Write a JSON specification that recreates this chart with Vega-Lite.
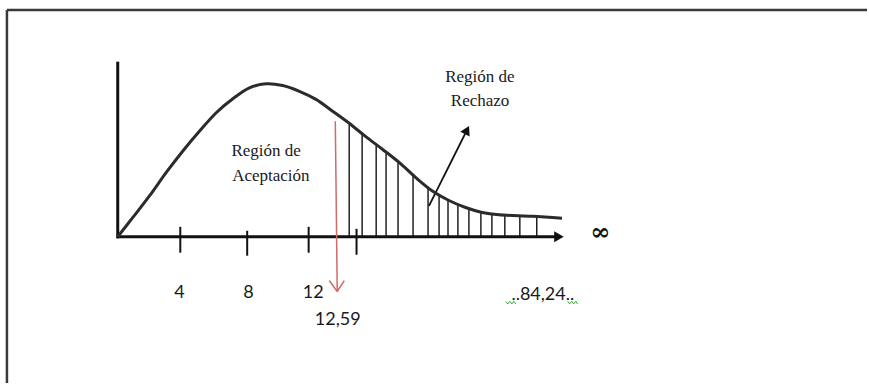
{
  "$schema": "https://vega.github.io/schema/vega-lite/v6.json",
  "width": 869,
  "height": 385,
  "autosize": {"type": "fit", "contains": "padding"},
  "padding": 0,
  "background": "white",
  "config": {"view": {"stroke": null}},
  "datasets": {
    "curve": [
      {"x": 0, "y": 0},
      {"x": 0.96, "y": 0.0123},
      {"x": 2.0, "y": 0.0258},
      {"x": 3.04, "y": 0.0404},
      {"x": 4.08, "y": 0.0539},
      {"x": 5.13, "y": 0.0664},
      {"x": 6.17, "y": 0.0779},
      {"x": 7.21, "y": 0.0867},
      {"x": 8.25, "y": 0.0936},
      {"x": 9.29, "y": 0.0961},
      {"x": 10.33, "y": 0.095},
      {"x": 11.38, "y": 0.0914},
      {"x": 12.42, "y": 0.0863},
      {"x": 13.46, "y": 0.0789},
      {"x": 14.5, "y": 0.0713},
      {"x": 15.54, "y": 0.0629},
      {"x": 16.58, "y": 0.055},
      {"x": 17.63, "y": 0.0467},
      {"x": 18.67, "y": 0.0372},
      {"x": 19.71, "y": 0.0288},
      {"x": 20.75, "y": 0.0228},
      {"x": 21.79, "y": 0.0184},
      {"x": 22.83, "y": 0.0153},
      {"x": 23.88, "y": 0.0138},
      {"x": 25.96, "y": 0.0129},
      {"x": 27.83, "y": 0.0117}
    ],
    "segs": [
      {"kind": "frame", "x": -6.94, "y": 0.1425, "x2": 46.94, "y2": 0.1425},
      {"kind": "frame", "x": -6.94, "y": 0.1425, "x2": -6.94, "y2": -0.0919},
      {"kind": "axis", "x": 0, "y": 0.11, "x2": 0, "y2": -0.001},
      {"kind": "axis", "x": -0.06, "y": 0, "x2": 27.4, "y2": 0},
      {"kind": "tick", "x": 3.92, "y": 0.00625, "x2": 3.92, "y2": -0.01},
      {"kind": "tick", "x": 8.11, "y": 0.00375, "x2": 8.11, "y2": -0.0119},
      {"kind": "tick", "x": 11.96, "y": 0.00625, "x2": 11.96, "y2": -0.01},
      {"kind": "tick", "x": 14.96, "y": 0.005, "x2": 14.96, "y2": -0.0113},
      {"kind": "hatch", "x": 14.5, "y": 0.0705, "x2": 14.5, "y2": 0},
      {"kind": "hatch", "x": 15.31, "y": 0.064, "x2": 15.31, "y2": 0},
      {"kind": "hatch", "x": 16.19, "y": 0.0575, "x2": 16.19, "y2": 0},
      {"kind": "hatch", "x": 16.81, "y": 0.0527, "x2": 16.81, "y2": 0},
      {"kind": "hatch", "x": 17.56, "y": 0.0468, "x2": 17.56, "y2": 0},
      {"kind": "hatch", "x": 18.5, "y": 0.0385, "x2": 18.5, "y2": 0},
      {"kind": "hatch", "x": 19.44, "y": 0.031, "x2": 19.44, "y2": 0},
      {"kind": "hatch", "x": 20.13, "y": 0.0264, "x2": 20.13, "y2": 0},
      {"kind": "hatch", "x": 20.69, "y": 0.023, "x2": 20.69, "y2": 0},
      {"kind": "hatch", "x": 21.31, "y": 0.0204, "x2": 21.31, "y2": 0},
      {"kind": "hatch", "x": 22.0, "y": 0.0178, "x2": 22.0, "y2": 0},
      {"kind": "hatch", "x": 22.75, "y": 0.0156, "x2": 22.75, "y2": 0},
      {"kind": "hatch", "x": 23.44, "y": 0.0144, "x2": 23.44, "y2": 0},
      {"kind": "hatch", "x": 24.25, "y": 0.0136, "x2": 24.25, "y2": 0},
      {"kind": "hatch", "x": 25.19, "y": 0.0132, "x2": 25.19, "y2": 0},
      {"kind": "hatch", "x": 26.25, "y": 0.0128, "x2": 26.25, "y2": 0},
      {"kind": "red", "x": 13.63, "y": 0.0725, "x2": 13.75, "y2": -0.0344},
      {"kind": "red", "x": 13.25, "y": -0.0275, "x2": 13.75, "y2": -0.0344},
      {"kind": "red", "x": 14.19, "y": -0.0275, "x2": 13.75, "y2": -0.0344},
      {"kind": "arrow", "x": 19.5, "y": 0.0194, "x2": 21.76, "y2": 0.0646}
    ],
    "heads": [
      {"kind": "axis", "x": 27.64, "y": 0, "angle": 90},
      {"kind": "arrow", "x": 21.88, "y": 0.067, "angle": 26.6}
    ],
    "squiggles": [
      {"g": "a", "x": 24.31, "y": -0.0406},
      {"g": "a", "x": 24.44, "y": -0.0422},
      {"g": "a", "x": 24.56, "y": -0.0406},
      {"g": "a", "x": 24.69, "y": -0.0422},
      {"g": "a", "x": 24.81, "y": -0.0406},
      {"g": "a", "x": 24.94, "y": -0.0422},
      {"g": "b", "x": 28.19, "y": -0.0406},
      {"g": "b", "x": 28.31, "y": -0.0422},
      {"g": "b", "x": 28.44, "y": -0.0406},
      {"g": "b", "x": 28.56, "y": -0.0422},
      {"g": "b", "x": 28.69, "y": -0.0406},
      {"g": "b", "x": 28.81, "y": -0.0422}
    ],
    "nums": [
      {"x": 3.875, "y": -0.0356, "label": "4"},
      {"x": 8.19, "y": -0.0356, "label": "8"},
      {"x": 12.25, "y": -0.0356, "label": "12"},
      {"x": 13.78, "y": -0.0523, "label": "12,59"},
      {"x": 26.63, "y": -0.0363, "label": "..84,24.."}
    ],
    "accept": [
      {"x": 7.125, "y": 0.0538, "label": "Región de"},
      {"x": 7.17, "y": 0.0383, "label": "Aceptación"}
    ],
    "reject": [
      {"x": 22.69, "y": 0.1004, "label": "Región de"},
      {"x": 22.7, "y": 0.0852, "label": "Rechazo"}
    ],
    "inf": [
      {"x": 30.23, "y": 0.0025, "label": "∞"}
    ]
  },
  "encoding": {
    "x": {"field": "x", "type": "quantitative", "scale": {"domain": [-7.375, 46.9375], "nice": false, "zero": false}, "axis": null},
    "y": {"field": "y", "type": "quantitative", "scale": {"domain": [-0.091875, 0.14875], "nice": false, "zero": false}, "axis": null}
  },
  "layer": [
    {
      "data": {"name": "segs"},
      "transform": [{"filter": "datum.kind === 'frame'"}],
      "mark": {"type": "rule", "color": "#3a3a3a", "strokeWidth": 2.5},
      "encoding": {"x2": {"field": "x2"}, "y2": {"field": "y2"}}
    },
    {
      "data": {"name": "segs"},
      "transform": [{"filter": "datum.kind === 'hatch'"}],
      "mark": {"type": "rule", "color": "#111111", "strokeWidth": 1.4},
      "encoding": {"x2": {"field": "x2"}, "y2": {"field": "y2"}}
    },
    {
      "data": {"name": "segs"},
      "transform": [{"filter": "datum.kind === 'tick'"}],
      "mark": {"type": "rule", "color": "#111111", "strokeWidth": 2},
      "encoding": {"x2": {"field": "x2"}, "y2": {"field": "y2"}}
    },
    {
      "data": {"name": "segs"},
      "transform": [{"filter": "datum.kind === 'axis'"}],
      "mark": {"type": "rule", "color": "#111111", "strokeWidth": 3},
      "encoding": {"x2": {"field": "x2"}, "y2": {"field": "y2"}}
    },
    {
      "data": {"name": "segs"},
      "transform": [{"filter": "datum.kind === 'arrow'"}],
      "mark": {"type": "rule", "color": "#111111", "strokeWidth": 1.8},
      "encoding": {"x2": {"field": "x2"}, "y2": {"field": "y2"}}
    },
    {
      "data": {"name": "segs"},
      "transform": [{"filter": "datum.kind === 'red'"}],
      "mark": {"type": "rule", "color": "#d26a6a", "strokeWidth": 1.5},
      "encoding": {"x2": {"field": "x2"}, "y2": {"field": "y2"}}
    },
    {
      "data": {"name": "curve"},
      "mark": {"type": "line", "color": "#2b2b2b", "strokeWidth": 3, "interpolate": "catmull-rom"},
      "encoding": {}
    },
    {
      "data": {"name": "squiggles"},
      "mark": {"type": "line", "color": "#3aa33a", "strokeWidth": 1},
      "encoding": {"detail": {"field": "g"}}
    },
    {
      "data": {"name": "heads"},
      "transform": [{"filter": "datum.kind === 'axis'"}],
      "mark": {"type": "point", "shape": "triangle-up", "filled": true, "color": "#111111", "size": 121, "opacity": 1},
      "encoding": {"angle": {"field": "angle", "type": "quantitative", "scale": null}}
    },
    {
      "data": {"name": "heads"},
      "transform": [{"filter": "datum.kind === 'arrow'"}],
      "mark": {"type": "point", "shape": "triangle-up", "filled": true, "color": "#111111", "size": 110, "opacity": 1},
      "encoding": {"angle": {"field": "angle", "type": "quantitative", "scale": null}}
    },
    {
      "data": {"name": "nums"},
      "mark": {"type": "text", "font": "Lato", "fontSize": 18, "color": "#1a1a1a", "align": "center", "baseline": "middle"},
      "encoding": {"text": {"field": "label"}}
    },
    {
      "data": {"name": "accept"},
      "mark": {"type": "text", "font": "Liberation Serif", "fontSize": 17, "color": "#1a1a1a", "align": "left", "baseline": "middle"},
      "encoding": {"text": {"field": "label"}}
    },
    {
      "data": {"name": "reject"},
      "mark": {"type": "text", "font": "Liberation Serif", "fontSize": 17, "color": "#1a1a1a", "align": "center", "baseline": "middle"},
      "encoding": {"text": {"field": "label"}}
    },
    {
      "data": {"name": "inf"},
      "mark": {"type": "text", "font": "DejaVu Serif", "fontSize": 24, "fontWeight": "bold", "color": "#111111", "align": "center", "baseline": "middle"},
      "encoding": {"text": {"field": "label"}}
    }
  ]
}
